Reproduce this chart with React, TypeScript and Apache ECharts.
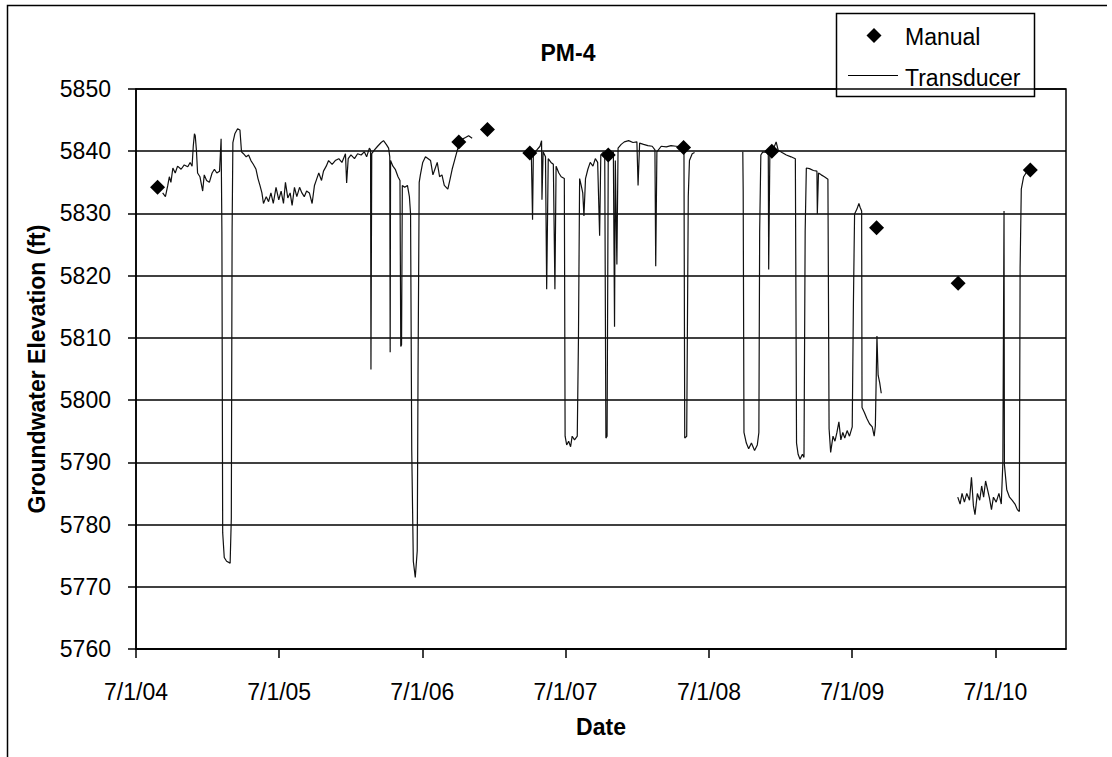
import React, { useEffect, useRef } from "react";
import * as echarts from "echarts";

const FONT = "'Liberation Sans', Arial, Helvetica, sans-serif";

const chartTitle = "PM-4";
const xAxisTitle = "Date";
const yAxisTitle = "Groundwater Elevation (ft)";

const xTickDates = ["2004-07-01", "2005-07-01", "2006-07-01", "2007-07-01", "2008-07-01", "2009-07-01", "2010-07-01"];
const xMinDate = "2004-07-01";
const xMaxDate = "2010-12-28";
const yMin = 5760;
const yMax = 5850;
const yStep = 10;

const manualDates = ["2004-08-25", "2006-10-02", "2006-12-14", "2007-04-01", "2007-10-18", "2008-04-27", "2008-12-08", "2009-09-01", "2010-03-28", "2010-09-28"];
const manualValues = [5834.2, 5841.5, 5843.5, 5839.7, 5839.4, 5840.6, 5840.0, 5827.7, 5818.8, 5837.0];

// Transducer record, continuous segments (gaps between them)
const transducer2004to2006: [string, number][] = [
  ["2004-09-07", 5833.3], ["2004-09-14", 5832.7], ["2004-09-20", 5834.5], ["2004-09-24", 5835.9], ["2004-09-28", 5835.0],
  ["2004-10-03", 5837.3], ["2004-10-09", 5836.5], ["2004-10-15", 5837.6], ["2004-10-24", 5837.1], ["2004-11-01", 5837.8],
  ["2004-11-10", 5837.5], ["2004-11-16", 5838.2], ["2004-11-21", 5837.6], ["2004-11-24", 5840.8], ["2004-11-27", 5842.8],
  ["2004-11-29", 5842.5], ["2004-12-02", 5840.2], ["2004-12-05", 5836.5], ["2004-12-11", 5835.9], ["2004-12-18", 5833.6],
  ["2004-12-22", 5836.2], ["2004-12-28", 5835.3], ["2005-01-04", 5835.0], ["2005-01-11", 5836.5], ["2005-01-17", 5837.1],
  ["2005-01-23", 5836.5], ["2005-01-30", 5836.8], ["2005-02-03", 5842.0], ["2005-02-05", 5827.0], ["2005-02-07", 5778.7],
  ["2005-02-11", 5774.7], ["2005-02-17", 5774.1], ["2005-02-26", 5773.8], ["2005-03-01", 5781.0], ["2005-03-03", 5827.0],
  ["2005-03-05", 5841.4], ["2005-03-10", 5842.8], ["2005-03-17", 5843.6], ["2005-03-23", 5843.4], ["2005-03-27", 5839.9],
  ["2005-04-01", 5839.6], ["2005-04-08", 5839.1], ["2005-04-14", 5839.4], ["2005-04-20", 5838.5], ["2005-04-26", 5837.9],
  ["2005-05-03", 5837.1], ["2005-05-08", 5835.6], ["2005-05-13", 5834.5], ["2005-05-18", 5833.3], ["2005-05-22", 5831.6],
  ["2005-05-29", 5832.7], ["2005-06-04", 5831.9], ["2005-06-10", 5833.3], ["2005-06-16", 5831.6], ["2005-06-23", 5834.2],
  ["2005-06-30", 5832.2], ["2005-07-06", 5833.6], ["2005-07-12", 5831.6], ["2005-07-17", 5835.0], ["2005-07-23", 5832.5],
  ["2005-07-29", 5833.3], ["2005-08-03", 5831.3], ["2005-08-09", 5834.2], ["2005-08-15", 5832.7], ["2005-08-22", 5834.2],
  ["2005-08-28", 5833.3], ["2005-09-03", 5832.7], ["2005-09-09", 5833.6], ["2005-09-16", 5833.3], ["2005-09-23", 5831.6],
  ["2005-09-29", 5834.5], ["2005-10-05", 5835.6], ["2005-10-10", 5836.5], ["2005-10-17", 5835.3], ["2005-10-22", 5836.8],
  ["2005-10-29", 5837.6], ["2005-11-04", 5838.5], ["2005-11-13", 5837.9], ["2005-11-21", 5838.5], ["2005-11-30", 5838.8],
  ["2005-12-08", 5838.2], ["2005-12-17", 5839.6], ["2005-12-20", 5834.9], ["2005-12-24", 5838.8], ["2005-12-31", 5839.4],
  ["2006-01-09", 5838.8], ["2006-01-17", 5839.6], ["2006-01-26", 5839.4], ["2006-02-03", 5839.9], ["2006-02-09", 5839.1],
  ["2006-02-16", 5840.5], ["2006-02-19", 5840.2], ["2006-02-20", 5804.9], ["2006-02-22", 5839.6], ["2006-03-01", 5840.2],
  ["2006-03-09", 5840.8], ["2006-03-18", 5841.4], ["2006-03-24", 5841.7], ["2006-03-31", 5841.1], ["2006-04-06", 5840.5],
  ["2006-04-09", 5839.1], ["2006-04-10", 5807.7], ["2006-04-11", 5838.5], ["2006-04-17", 5837.6], ["2006-04-23", 5837.1],
  ["2006-04-30", 5835.9], ["2006-05-05", 5835.3], ["2006-05-07", 5808.6], ["2006-05-09", 5808.9], ["2006-05-11", 5834.5],
  ["2006-05-17", 5834.2], ["2006-05-24", 5834.5], ["2006-05-29", 5832.7], ["2006-06-01", 5829.9], ["2006-06-04", 5791.9],
  ["2006-06-08", 5774.1], ["2006-06-13", 5771.5], ["2006-06-18", 5775.8], ["2006-06-20", 5804.0], ["2006-06-23", 5835.0],
  ["2006-06-26", 5836.2], ["2006-07-02", 5838.2], ["2006-07-09", 5839.1], ["2006-07-16", 5838.8], ["2006-07-22", 5838.5],
  ["2006-07-28", 5836.2], ["2006-08-02", 5837.1], ["2006-08-08", 5838.2], ["2006-08-14", 5835.9], ["2006-08-20", 5836.2],
  ["2006-08-26", 5834.5], ["2006-09-04", 5833.9], ["2006-09-10", 5835.6], ["2006-09-15", 5837.1], ["2006-09-21", 5838.5],
  ["2006-09-27", 5839.9], ["2006-10-04", 5841.4], ["2006-10-10", 5841.9], ["2006-10-19", 5842.2], ["2006-10-27", 5842.5],
  ["2006-11-05", 5842.1],
];

const transducer2007to2008: [string, number][] = [
  ["2007-04-02", 5839.4], ["2007-04-05", 5839.1], ["2007-04-08", 5829.0], ["2007-04-10", 5839.6], ["2007-04-19", 5840.2],
  ["2007-04-27", 5840.8], ["2007-05-01", 5841.7], ["2007-05-02", 5832.2], ["2007-05-05", 5839.9], ["2007-05-11", 5839.1],
  ["2007-05-14", 5817.8], ["2007-05-18", 5838.8], ["2007-05-25", 5838.2], ["2007-05-31", 5837.9], ["2007-06-04", 5817.8],
  ["2007-06-07", 5837.6], ["2007-06-14", 5836.5], ["2007-06-20", 5835.9], ["2007-06-28", 5835.6], ["2007-06-30", 5794.2],
  ["2007-07-04", 5792.8], ["2007-07-09", 5793.4], ["2007-07-14", 5792.5], ["2007-07-18", 5794.2], ["2007-07-24", 5793.6],
  ["2007-07-31", 5794.2], ["2007-08-03", 5809.7], ["2007-08-06", 5835.6], ["2007-08-10", 5834.5], ["2007-08-14", 5833.3],
  ["2007-08-17", 5829.6], ["2007-08-21", 5835.6], ["2007-08-27", 5837.1], ["2007-09-02", 5838.2], ["2007-09-09", 5837.6],
  ["2007-09-15", 5838.8], ["2007-09-21", 5838.2], ["2007-09-26", 5826.4], ["2007-09-29", 5839.4], ["2007-10-06", 5839.9],
  ["2007-10-09", 5839.6], ["2007-10-12", 5793.9], ["2007-10-15", 5794.2], ["2007-10-18", 5839.4], ["2007-10-25", 5839.6],
  ["2007-10-31", 5839.9], ["2007-11-03", 5811.8], ["2007-11-05", 5838.5], ["2007-11-09", 5821.8], ["2007-11-12", 5840.5],
  ["2007-11-20", 5841.1], ["2007-11-28", 5841.5], ["2007-12-09", 5841.7], ["2007-12-20", 5841.4], ["2007-12-30", 5841.5],
  ["2008-01-02", 5834.5], ["2008-01-06", 5841.3], ["2008-01-16", 5841.1], ["2008-01-27", 5840.9], ["2008-02-07", 5840.8],
  ["2008-02-14", 5840.2], ["2008-02-16", 5821.5], ["2008-02-19", 5839.9], ["2008-03-01", 5840.8], ["2008-03-14", 5840.7],
  ["2008-03-26", 5840.9], ["2008-04-08", 5840.8], ["2008-04-21", 5840.7], ["2008-04-28", 5840.5], ["2008-04-30", 5793.9],
  ["2008-05-05", 5794.2], ["2008-05-09", 5832.7], ["2008-05-12", 5838.5], ["2008-05-19", 5839.6], ["2008-05-25", 5839.8],
];

const transducer2008to2009: [string, number][] = [
  ["2008-09-25", 5839.9], ["2008-09-26", 5833.6], ["2008-09-28", 5794.8], ["2008-10-04", 5793.1], ["2008-10-10", 5792.2],
  ["2008-10-17", 5793.1], ["2008-10-25", 5791.9], ["2008-11-01", 5792.8], ["2008-11-05", 5794.8], ["2008-11-07", 5827.0],
  ["2008-11-10", 5839.4], ["2008-11-15", 5839.9], ["2008-11-24", 5839.8], ["2008-11-29", 5839.4], ["2008-11-30", 5821.0],
  ["2008-12-03", 5839.6], ["2008-12-11", 5840.2], ["2008-12-19", 5841.5], ["2008-12-24", 5840.2], ["2009-01-03", 5839.8],
  ["2009-01-14", 5839.4], ["2009-01-26", 5839.1], ["2009-02-06", 5838.8], ["2009-02-09", 5793.1], ["2009-02-13", 5791.3],
  ["2009-02-18", 5790.5], ["2009-02-24", 5791.3], ["2009-02-28", 5790.8], ["2009-03-03", 5827.0], ["2009-03-06", 5837.3],
  ["2009-03-14", 5837.2], ["2009-03-24", 5836.9], ["2009-04-02", 5836.8], ["2009-04-03", 5829.9], ["2009-04-06", 5836.5],
  ["2009-04-13", 5836.2], ["2009-04-21", 5835.9], ["2009-04-30", 5835.5], ["2009-05-03", 5795.4], ["2009-05-07", 5791.6],
  ["2009-05-13", 5794.2], ["2009-05-18", 5793.4], ["2009-05-23", 5794.8], ["2009-05-28", 5796.5], ["2009-06-02", 5793.6],
  ["2009-06-07", 5794.8], ["2009-06-12", 5793.9], ["2009-06-18", 5795.1], ["2009-06-24", 5794.2], ["2009-07-01", 5795.7],
  ["2009-07-04", 5815.5], ["2009-07-07", 5829.9], ["2009-07-13", 5830.7], ["2009-07-18", 5831.6], ["2009-07-21", 5831.0],
  ["2009-07-25", 5830.4], ["2009-07-26", 5798.8], ["2009-08-01", 5798.0], ["2009-08-07", 5797.1], ["2009-08-14", 5796.2],
  ["2009-08-21", 5795.7], ["2009-08-26", 5794.2], ["2009-08-29", 5795.9], ["2009-09-02", 5810.3], ["2009-09-05", 5804.0],
  ["2009-09-09", 5802.8], ["2009-09-13", 5801.1],
];

const transducer2010: [string, number][] = [
  ["2010-03-27", 5784.4], ["2010-04-02", 5783.3], ["2010-04-07", 5785.0], ["2010-04-13", 5783.6], ["2010-04-19", 5785.0],
  ["2010-04-26", 5783.9], ["2010-05-01", 5787.6], ["2010-05-06", 5783.0], ["2010-05-10", 5781.6], ["2010-05-16", 5785.0],
  ["2010-05-22", 5783.9], ["2010-05-27", 5786.2], ["2010-06-01", 5784.4], ["2010-06-06", 5787.0], ["2010-06-11", 5785.6],
  ["2010-06-16", 5784.2], ["2010-06-21", 5782.4], ["2010-06-26", 5784.4], ["2010-07-03", 5783.6], ["2010-07-10", 5785.0],
  ["2010-07-16", 5783.3], ["2010-07-20", 5789.9], ["2010-07-23", 5830.4], ["2010-07-24", 5789.6], ["2010-07-30", 5785.6],
  ["2010-08-06", 5784.4], ["2010-08-13", 5783.9], ["2010-08-20", 5783.3], ["2010-08-26", 5782.4], ["2010-08-31", 5782.1],
  ["2010-09-02", 5821.2], ["2010-09-05", 5833.9], ["2010-09-11", 5835.9], ["2010-09-19", 5836.7],
];

const transducerSegments = [transducer2004to2006, transducer2007to2008, transducer2008to2009, transducer2010];

const toTime = (s: string) => {
  const [y, m, d] = s.split("-").map(Number);
  return new Date(y, m - 1, d).getTime();
};
const fmtDate = (v: number) => {
  const d = new Date(v);
  return `${d.getMonth() + 1}/${d.getDate()}/${String(d.getFullYear()).slice(2)}`;
};

export default function App() {
  const ref = useRef<HTMLDivElement>(null);

  useEffect(() => {
    if (!ref.current) return;
    const chart = echarts.init(ref.current, undefined, { renderer: "svg" });
    const xTicks = xTickDates.map(toTime);
    const axisColor = "#000";

    const option: any = {
      animation: false,
      backgroundColor: "#fff",
      textStyle: { fontFamily: FONT },
      title: {
        text: chartTitle,
        left: 568,
        top: 41,
        textAlign: "center",
        padding: 0,
        textStyle: { fontSize: 23, fontWeight: "bold", color: "#000", fontFamily: FONT },
      },
      grid: {
        left: 136,
        top: 89,
        right: 46,
        bottom: 108,
        show: true,
        borderColor: axisColor,
        borderWidth: 1.5,
        backgroundColor: "transparent",
      },
      xAxis: {
        type: "value",
        min: toTime(xMinDate),
        max: toTime(xMaxDate),
        name: xAxisTitle,
        nameLocation: "middle",
        nameGap: 66,
        nameTextStyle: { fontSize: 23, fontWeight: "bold", color: "#000", fontFamily: FONT },
        axisLine: { show: true, lineStyle: { color: axisColor, width: 1.5 } },
        axisTick: { show: true, length: 9, lineStyle: { color: axisColor, width: 1.5 }, customValues: xTicks },
        axisLabel: {
          customValues: xTicks,
          formatter: (v: number) => fmtDate(v),
          fontSize: 23,
          color: "#000",
          margin: 31,
          fontFamily: FONT,
          showMinLabel: true,
          showMaxLabel: true,
          hideOverlap: false,
        },
        splitLine: { show: false },
      },
      yAxis: {
        type: "value",
        min: yMin,
        max: yMax,
        interval: yStep,
        name: yAxisTitle,
        nameLocation: "middle",
        nameGap: 84,
        nameTextStyle: { fontSize: 23, fontWeight: "bold", color: "#000", fontFamily: FONT },
        axisLine: { show: true, lineStyle: { color: axisColor, width: 1.5 } },
        axisTick: { show: true, length: 8, lineStyle: { color: axisColor, width: 1.5 } },
        axisLabel: { fontSize: 23, color: "#000", margin: 25, fontFamily: FONT, formatter: (v: number) => String(v) },
        splitLine: { show: true, lineStyle: { color: axisColor, width: 1.5 } },
      },
      series: [
        ...transducerSegments.map((seg) => ({
          type: "line",
          name: "Transducer",
          data: seg.map(([d, v]) => [toTime(d), v]),
          symbol: "none",
          showSymbol: false,
          lineStyle: { color: "#111", width: 1.2 },
          z: 3,
        })),
        {
          type: "scatter",
          name: "Manual",
          data: manualDates.map((d, i) => [toTime(d), manualValues[i]]),
          symbol: "diamond",
          symbolSize: 15,
          itemStyle: { color: "#000", opacity: 1 },
          z: 4,
        },
      ],
      graphic: [
        {
          type: "polyline",
          z: 50,
          shape: { points: [[1107, 5.5], [7.5, 5.5], [7.5, 760]] },
          style: { stroke: "#000", lineWidth: 1.5, fill: "none" },
        },
        {
          type: "group",
          z: 100,
          children: [
            {
              type: "rect",
              shape: { x: 836.5, y: 13.5, width: 198, height: 83 },
              style: { fill: "#fff", stroke: "#000", lineWidth: 1.5 },
            },
            {
              type: "polygon",
              shape: { points: [[874, 28], [881.5, 35.5], [874, 43], [866.5, 35.5]] },
              style: { fill: "#000" },
            },
            {
              type: "text",
              x: 905,
              y: 37,
              style: {
                text: "Manual",
                fontSize: 23,
                fontFamily: FONT,
                fill: "#000",
                align: "left",
                verticalAlign: "middle",
                textAlign: "left",
                textVerticalAlign: "middle",
              },
            },
            {
              type: "line",
              shape: { x1: 848, y1: 75.5, x2: 898, y2: 75.5 },
              style: { stroke: "#000", lineWidth: 1 },
            },
            {
              type: "text",
              x: 905,
              y: 78,
              style: {
                text: "Transducer",
                fontSize: 23,
                fontFamily: FONT,
                fill: "#000",
                align: "left",
                verticalAlign: "middle",
                textAlign: "left",
                textVerticalAlign: "middle",
              },
            },
          ],
        },
      ],
    };

    chart.setOption(option);
    return () => chart.dispose();
  }, []);

  return (
    <div
      ref={ref}
      style={{ position: "fixed", left: 0, top: 0, width: 1112, height: 757, background: "#fff" }}
    />
  );
}
